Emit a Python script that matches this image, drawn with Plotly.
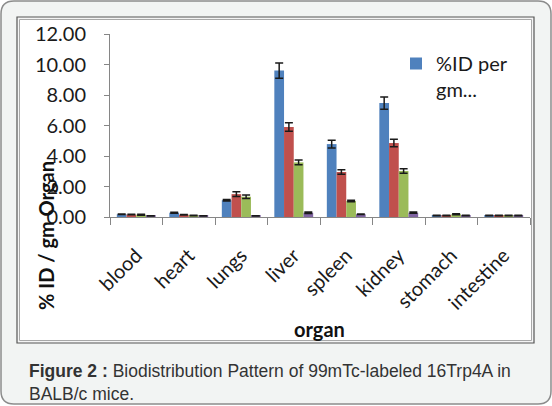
import plotly.graph_objects as go

# organ uptake, % ID per gm organ
organs = ['blood', 'heart', 'lungs', 'liver', 'spleen', 'kidney', 'stomach', 'intestine']
series_names = ['%ID per<br>gm...', '%ID per gm organ (2)', '%ID per gm organ (3)', '%ID per gm organ (4)']
blue_vals = [0.18, 0.28, 1.10, 9.60, 4.78, 7.47, 0.10, 0.10]
red_vals = [0.16, 0.15, 1.50, 5.90, 2.95, 4.85, 0.10, 0.10]
green_vals = [0.15, 0.10, 1.33, 3.58, 1.05, 3.02, 0.18, 0.10]
purple_vals = [0.08, 0.08, 0.08, 0.28, 0.18, 0.28, 0.10, 0.10]
blue_err = [0.02, 0.03, 0.05, 0.50, 0.25, 0.40, 0.01, 0.01]
red_err = [0.02, 0.02, 0.15, 0.28, 0.15, 0.25, 0.01, 0.01]
green_err = [0.03, 0.02, 0.12, 0.15, 0.05, 0.15, 0.03, 0.01]
purple_err = [0.01, 0.01, 0.01, 0.05, 0.02, 0.04, 0.01, 0.01]
y_ticks = [0, 2, 4, 6, 8, 10, 12]

W, H = 552, 406
colors = ['#4F81BD', '#C0504D', '#9BBB59', '#8064A2']


def px(x):
    return x / W


def py(y):
    return 1 - y / H


def rounded(x0, y0, x1, y1, r):
    rx, ry = r / W, r / H
    a, b, c, d = px(x0), py(y0), px(x1), py(y1)
    return ('M{},{} L{},{} Q{},{} {},{} L{},{} Q{},{} {},{} L{},{} Q{},{} {},{} '
            'L{},{} Q{},{} {},{} Z').format(
        a + rx, b, c - rx, b, c, b, c, b - ry, c, d + ry, c, d, c - rx, d,
        a + rx, d, a, d, a, d + ry, a, b - ry, a, b, a + rx, b)


fig = go.Figure()
all_vals = [blue_vals, red_vals, green_vals, purple_vals]
all_err = [blue_err, red_err, green_err, purple_err]
for i in range(4):
    fig.add_trace(go.Bar(
        x=organs,
        y=all_vals[i],
        name=series_names[i],
        marker=dict(color=colors[i], line=dict(width=0)),
        error_y=dict(type='data', array=all_err[i], color='#1a1a1a', thickness=1.5, width=4),
        showlegend=(i == 0),
    ))

tick_font = dict(family='Lato', size=20, color='#1a1a1a')

fig.update_layout(
    width=W, height=H,
    margin=dict(l=0, r=0, t=0, b=0, autoexpand=False),
    paper_bgcolor='white',
    plot_bgcolor='rgba(0,0,0,0)',
    barmode='group',
    bargap=0.26,
    bargroupgap=0,
    xaxis=dict(
        domain=[px(110), px(530)],
        type='category',
        automargin=False,
        showline=True, linecolor='#868686', linewidth=1,
        ticks='outside', tickson='boundaries', ticklen=7, tickcolor='#868686',
        tickangle=-45,
        ticklabelstandoff=18,
        tickfont=dict(family='Lato', size=20, color='#1a1a1a'),
        showgrid=False,
    ),
    yaxis=dict(
        domain=[py(217), py(34)],
        range=[0, 12],
        automargin=False,
        tickvals=y_ticks,
        tickformat='.2f',
        showline=True, linecolor='#868686', linewidth=1,
        ticks='outside', ticklen=5, tickcolor='#868686',
        ticklabelstandoff=14,
        tickfont=tick_font,
        showgrid=False, zeroline=False,
    ),
    legend=dict(
        x=px(396), y=py(44), xanchor='left', yanchor='top',
        bgcolor='rgba(0,0,0,0)',
        font=dict(family='Lato', size=20, color='#1a1a1a'),
        valign='top',
    ),
    shapes=[
        dict(type='path', xref='paper', yref='paper', path=rounded(1, 1, 551, 404, 13),
             fillcolor='#f2f4f3', line=dict(color='#8c8c8c', width=1.5), layer='below'),
        dict(type='rect', xref='paper', yref='paper', x0=px(17), y0=py(343), x1=px(534), y1=py(17),
             fillcolor='#f4f4f4', line=dict(color='#555555', width=1.2), layer='below'),
        dict(type='rect', xref='paper', yref='paper', x0=px(19.5), y0=py(340.5), x1=px(531.5), y1=py(19.5),
             fillcolor='white', line=dict(color='#a8a8a8', width=1), layer='below'),
    ],
    annotations=[
        dict(text='<b>% ID / gm Organ</b>', xref='paper', yref='paper', x=px(46), y=py(236),
             textangle=-90, showarrow=False, xanchor='center', yanchor='middle',
             font=dict(family='Lato', size=20, color='#111111')),
        dict(text='<b>organ</b>', xref='paper', yref='paper', x=px(319), y=py(329),
             showarrow=False, xanchor='center', yanchor='middle',
             font=dict(family='Lato', size=20, color='#111111')),
        dict(text='<b>Figure 2 :</b> Biodistribution Pattern of 99mTc-labeled 16Trp4A in<br>BALB/c mice.',
             xref='paper', yref='paper', x=px(27), y=py(359), xanchor='left', yanchor='top',
             align='left', showarrow=False,
             font=dict(family='Liberation Sans', size=17.5, color='#333333')),
    ],
)

# the page's default body margin would push the figure off the window
fig.write_html('out.html', config={'displayModeBar': False},
               post_script="document.body.style.margin='0';document.body.style.overflow='hidden';")
